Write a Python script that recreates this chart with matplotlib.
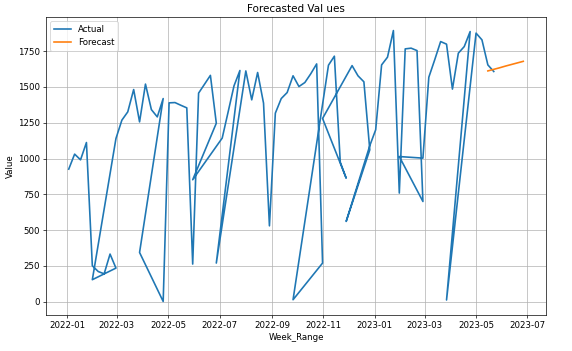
import matplotlib
matplotlib.use("Agg")
import matplotlib.pyplot as plt
import pandas as pd

# Actual series, in the order the rows appear (dates are not sorted)
actual_dates = [
    "2022-01-03", "2022-01-10", "2022-01-17", "2022-01-24", "2022-01-31", "2022-02-07",
    "2022-02-14", "2022-02-21", "2022-02-28", "2022-01-31", "2022-02-28", "2022-03-07",
    "2022-03-14", "2022-03-21", "2022-03-28", "2022-04-04", "2022-04-11", "2022-04-18",
    "2022-04-25", "2022-03-28", "2022-04-25", "2022-05-02", "2022-05-09", "2022-05-16",
    "2022-05-23", "2022-05-30", "2022-06-06", "2022-06-13", "2022-06-20", "2022-06-27",
    "2022-05-30", "2022-07-04", "2022-07-11", "2022-07-18", "2022-07-25", "2022-06-27",
    "2022-08-01", "2022-08-08", "2022-08-15", "2022-08-22", "2022-08-29", "2022-09-05",
    "2022-09-12", "2022-09-19", "2022-09-26", "2022-10-03", "2022-10-10", "2022-10-17",
    "2022-10-24", "2022-10-31", "2022-09-26", "2022-11-07", "2022-11-14", "2022-11-21",
    "2022-11-28", "2022-10-31", "2022-12-05", "2022-12-12", "2022-12-19", "2022-12-26",
    "2022-11-28", "2022-12-26", "2023-01-02", "2023-01-09", "2023-01-16", "2023-01-23",
    "2023-01-30", "2023-02-06", "2023-02-13", "2023-02-20", "2023-02-27", "2023-01-30",
    "2023-02-27", "2023-03-06", "2023-03-13", "2023-03-20", "2023-03-27", "2023-04-03",
    "2023-04-10", "2023-04-17", "2023-04-24", "2023-03-27", "2023-04-24", "2023-05-01",
    "2023-05-08", "2023-05-15", "2023-05-22",
]
actual_values = [
    926, 1031, 991, 1112, 251, 211,
    195, 333, 235, 154, 1140, 1268,
    1326, 1482, 1256, 1520, 1342, 1291,
    1419, 344, 2, 1389, 1391, 1372,
    1354, 263, 1457, 1519, 1581, 1247,
    852, 1143, 1325, 1508, 1615, 270,
    1612, 1410, 1601, 1387, 530, 1317,
    1419, 1461, 1578, 1503, 1531, 1592,
    1661, 270, 14, 1652, 1715, 975,
    863, 1280, 1649, 1578, 1536, 1061,
    561, 1090, 1201, 1654, 1708, 1894,
    759, 1766, 1771, 1754, 700, 1014,
    1003, 1568, 1690, 1817, 1799, 1485,
    1736, 1782, 1887, 12, 1504, 1876,
    1829, 1654, 1608,
]

forecast_dates = [
    "2023-05-15", "2023-05-22", "2023-05-29", "2023-06-05",
    "2023-06-12", "2023-06-19", "2023-06-26",
]
forecast_values = [1612, 1623, 1634, 1646, 1657, 1668, 1679]

a_dates = pd.to_datetime(actual_dates)
f_dates = pd.to_datetime(forecast_dates)

fig = plt.figure(figsize=(572 / 62, 351 / 62), dpi=62)
ax = fig.add_axes([46 / 572, 1 - 315 / 351, 500 / 572, 298 / 351])
ax.plot(a_dates, actual_values, label="Actual", linewidth=1.9)
ax.plot(f_dates, forecast_values, label="Forecast", linewidth=1.9)
ax.set_title("Forecasted Val ues")
ax.set_xlabel("Week_Range")
ax.set_ylabel("Value")
ax.legend(loc="upper left")
ax.grid(True)
fig.savefig("out.png", dpi=62)
